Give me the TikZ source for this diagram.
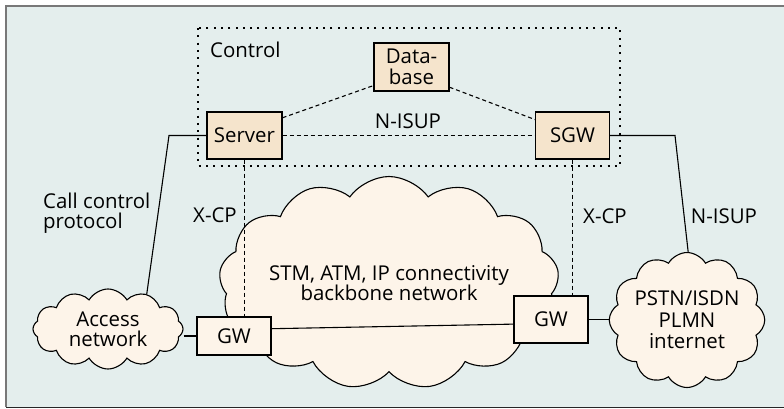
\documentclass[tikz,border=0pt]{standalone}
\usepackage{fontspec}
\setmainfont{Open Sans}
\usetikzlibrary{shapes.symbols}
\definecolor{panel}{RGB}{228,238,237}
\definecolor{unitfill}{RGB}{245,228,204}
\definecolor{netfill}{RGB}{253,244,233}
\definecolor{framegray}{RGB}{120,120,120}
\tikzset{
  unit/.style={draw=black, line width=1.1bp, fill=unitfill, inner sep=0pt, align=center},
  gwbox/.style={draw=black, line width=1.1bp, fill=netfill, inner sep=0pt, minimum width=74bp},
  net/.style={cloud, cloud ignores aspect, draw=black, line width=1.1bp, fill=netfill, inner sep=0pt, align=center},
  link/.style={line width=1.1bp},
  dlink/.style={line width=1.1bp, dash pattern=on 4bp off 3bp},
  lbl/.style={inner sep=0pt, align=left}
}
\begin{document}
\begin{tikzpicture}[x=1bp, y=-1bp, font=\fontsize{20.5}{20.5}\selectfont]
\useasboundingbox (0,0) rectangle (784,408);
% panel
\fill[panel] (6,6) rectangle (784,408);
\draw[framegray, line width=1.6bp] (784,6) -- (6,6) -- (6,407.2);
\draw[black!85, line width=1.4bp] (6,407.2) -- (784,407.2);

% control domain
\draw[line width=1.4bp, dash pattern=on 2bp off 5.3bp] (198,28) rectangle (620,166);
\node[lbl, anchor=west] (ctl) at (210,50) {Control};

% networks
\node[net, cloud puffs=13, cloud puff arc=110, minimum width=340bp, minimum height=213bp] (core) at (389,283) {STM, ATM, IP connectivity\\backbone network};
\node[net, cloud puffs=12, cloud puff arc=120, minimum width=150bp, minimum height=80bp] (acc) at (108,329) {Access\\network};
\node[net, cloud puffs=12, cloud puff arc=120, minimum width=148bp, minimum height=135bp] (pstn) at (687,320) {PSTN/ISDN\\[1bp]PLMN\\[1bp]internet};

% control units
\node[unit, minimum width=75bp, minimum height=48bp] (db) at (411.5,67) {Data-\\base};
\node[unit, minimum width=75bp, minimum height=47bp] (server) at (244.5,135.5) {Server};
\node[unit, minimum width=74bp, minimum height=47bp] (sgw) at (572.5,135.5) {SGW};

% gateways
\node[gwbox, minimum height=38bp] (gw1) at (234,336) {GW};
\node[gwbox, minimum height=47bp] (gw2) at (551,319.5) {GW};

% signalling inside the control domain
\draw[dlink] (server.east) -- (sgw.west);
\draw[dlink] (server.25) -- (db.206);
\draw[dlink] (db.-28) -- (sgw.157);
\node[lbl] (nisup) at (408,121) {N-ISUP};

% gateway control
\draw[dlink] (server.south) -- (server.south |- gw1.north);
\draw[dlink] (sgw.south) -- (sgw.south |- gw2.north);
\node[lbl] (xcp1) at (215,215) {X-CP};
\node[lbl] (xcp2) at (605,216) {X-CP};

% call control and external signalling
\coordinate (bendL) at (169,135.5);
\coordinate (bendR) at (675,135.5);
\draw[link] (server.west) -- (bendL) -- (acc.42);
\draw[link] (sgw.east) -- (bendR) -- (pstn.89);
\node[lbl, anchor=west] (ccp) at (43,213) {Call control\\protocol};
\node[lbl] (nisup2) at (724,216) {N-ISUP};

% bearer path
\draw[link] (acc.east |- gw1.west) -- (gw1.west);
\draw[link] (gw1.11) -- (gw2.187);
\draw[link] (gw2.east) -- (gw2.east -| pstn.west);
\end{tikzpicture}
\end{document}
